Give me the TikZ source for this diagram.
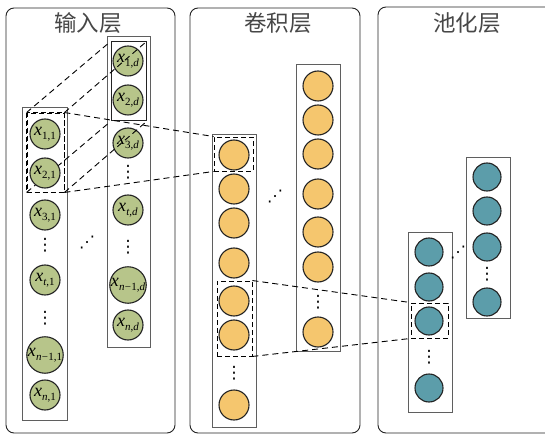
\documentclass[tikz,border=0pt]{standalone}
\usepackage{fontspec}
\setmainfont{Liberation Serif}
\newfontfamily\cjk{Noto Sans CJK SC}
\newfontfamily\symf{DejaVu Sans}
\usetikzlibrary{calc}

\definecolor{ingreen}{RGB}{183,197,138}
\definecolor{convorange}{RGB}{245,198,110}
\definecolor{poolteal}{RGB}{92,157,170}
\definecolor{edgedark}{RGB}{35,35,35}
\definecolor{boxgray}{RGB}{95,95,95}

% subscripted variable label: x_{#1}
\newcommand{\xlab}[1]{\textit{x}\kern0.2pt\raisebox{-3.5pt}{\fontsize{11}{11}\selectfont #1}}
\newcommand{\mminus}{\kern0.2pt−\kern0.2pt}

\tikzset{
  panel/.style={draw=edgedark, line width=0.9pt, rounded corners=8pt},
  title/.style={font=\cjk\fontsize{22.5}{22.5}\selectfont, text=black!72},
  colbox/.style={draw=boxgray, line width=0.9pt, inner sep=0pt},
  innerbox/.style={draw=edgedark, line width=1pt, inner sep=0pt},
  dashbox/.style={draw=black, line width=0.9pt, dash pattern=on 5pt off 3pt, inner sep=0pt},
  neuron/.style={circle, draw=edgedark, line width=1.1pt, inner sep=0pt, minimum size=30pt},
  inN/.style={neuron, fill=ingreen, font=\fontsize{18}{18}\selectfont},
  convN/.style={neuron, fill=convorange},
  poolN/.style={neuron, fill=poolteal, minimum size=28pt},
  vdot/.style={inner sep=0pt, font=\symf\fontsize{17}{17}\selectfont},
  ddot/.style={inner sep=0pt, font=\symf\fontsize{16}{16}\selectfont},
  link/.style={draw=black, line width=0.9pt, dash pattern=on 6pt off 4pt},
}

\begin{document}
\begin{tikzpicture}[x=1pt, y=-1pt]
  \useasboundingbox (0,0) rectangle (545,435);
  \clip (0,0) rectangle (545,435);

  % three layer panels
  \draw[panel] (6,8) rectangle (175,433);
  \draw[panel] (190,8) rectangle (360,433);
  \draw[panel] (378,7) rectangle (560,433);
  \node[title] (tIn)   at (88,23)  {输入层};
  \node[title] (tConv) at (278,23) {卷积层};
  \node[title] (tPool) at (467,23) {池化层};

  % ---------- input layer ----------
  \node[colbox, minimum width=45pt, minimum height=313pt] (inL) at (44.5,263.5) {};
  \node[colbox, minimum width=43pt, minimum height=311pt] (inR) at (128.5,191.5) {};

  % last feature column
  \node[inN] (d1) at (128,61)  {\xlab{1,\textit{d}}};
  \node[inN] (d2) at (128,100) {\xlab{2,\textit{d}}};
  \node[inN] (d3) at (128,143) {\xlab{3,\textit{d}}};
  \node[vdot] (dv1) at (128,172) {⋮};
  \node[inN] (dt) at (128,210) {\xlab{\textit{t},\textit{d}}};
  \node[vdot] (dv2) at (128,247) {⋮};
  \node[inN] (dn1) at (128,285) {\xlab{\textit{n}\mminus1,\textit{d}}};
  \node[inN] (dn) at (128,325) {\xlab{\textit{n},\textit{d}}};
  \node[innerbox, minimum width=35pt, minimum height=79pt] (inWin) at (128.5,81.5) {};

  \node[ddot] (inDiag) at (87,243) {⋰};

  % window edges between the two feature columns
  \node[dashbox, minimum width=37pt, minimum height=79pt] (inDash) at (45.5,152.5) {};
  \draw[link] (inDash.north west) -- (inWin.north west);
  \draw[link] (inDash.north east) -- (inWin.north east);
  \draw[link] (inDash.south west) -- (inWin.south west);
  \draw[link] (inDash.south east) -- (inWin.south east);

  % first feature column
  \node[inN] (a1) at (45,134) {\xlab{1,1}};
  \node[inN] (a2) at (45,173) {\xlab{2,1}};
  \node[inN] (a3) at (45,215) {\xlab{3,1}};
  \node[vdot] (av1) at (45,245) {⋮};
  \node[inN] (at) at (45,280) {\xlab{\textit{t},1}};
  \node[vdot] (av2) at (45,318) {⋮};
  \node[inN] (an1) at (45,355) {\xlab{\textit{n}\mminus1,1}};
  \node[inN] (an) at (45,395) {\xlab{\textit{n},1}};
  \draw[dashbox] (inDash.north west) rectangle (inDash.south east);

  % ---------- convolution layer ----------
  \node[colbox, minimum width=44pt, minimum height=293pt] (cL) at (234,280.5) {};
  \node[colbox, minimum width=44pt, minimum height=287pt] (cR) at (318,207.5) {};

  \node[convN] (c1) at (234,155) {};
  \node[convN] (c2) at (234,189) {};
  \node[convN] (c3) at (234,223) {};
  \node[convN] (c4) at (234,263) {};
  \node[convN] (c5) at (234,301) {};
  \node[convN] (c6) at (234,335) {};
  \node[vdot] (cv1) at (234,373) {⋮};
  \node[convN] (c7) at (234,405) {};

  \node[convN] (e1) at (318,86)  {};
  \node[convN] (e2) at (318,120) {};
  \node[convN] (e3) at (318,154) {};
  \node[convN] (e4) at (318,194) {};
  \node[convN] (e5) at (318,232) {};
  \node[convN] (e6) at (318,267) {};
  \node[vdot] (ev1) at (318,302) {⋮};
  \node[convN] (e7) at (318,332) {};

  \node[ddot] (cDiag) at (275,197) {⋰};

  \node[dashbox, minimum width=39pt, minimum height=34pt] (cDashA) at (233.5,154) {};
  \node[dashbox, minimum width=35pt, minimum height=75pt] (cDashB) at (234.5,318.5) {};

  % ---------- pooling layer ----------
  \node[colbox, minimum width=44pt, minimum height=180pt] (pL) at (430,322) {};
  \node[colbox, minimum width=44pt, minimum height=161pt] (pR) at (488,237.5) {};

  \node[poolN] (p1) at (429,252) {};
  \node[poolN] (p2) at (429,287) {};
  \node[poolN] (p3) at (429,321) {};
  \node[vdot] (pv1) at (429,357) {⋮};
  \node[poolN] (p4) at (429,388) {};

  \node[poolN] (q1) at (487,177) {};
  \node[poolN] (q2) at (487,211) {};
  \node[poolN] (q3) at (487,247) {};
  \node[vdot] (qv1) at (487,274) {⋮};
  \node[poolN] (q4) at (487,302) {};

  \node[ddot] (pDiag) at (458,253) {⋰};

  \node[dashbox, minimum width=37pt, minimum height=35pt] (pDash) at (429.5,320.5) {};

  % ---------- receptive-field links between layers ----------
  \draw[link] (inDash.north east) -- (cDashA.north west);
  \draw[link] (inDash.south east) -- (cDashA.south west);
  \draw[link] (cDashB.north east) -- (pDash.north west);
  \draw[link] (cDashB.south east) -- (pDash.south west);
\end{tikzpicture}
\end{document}
